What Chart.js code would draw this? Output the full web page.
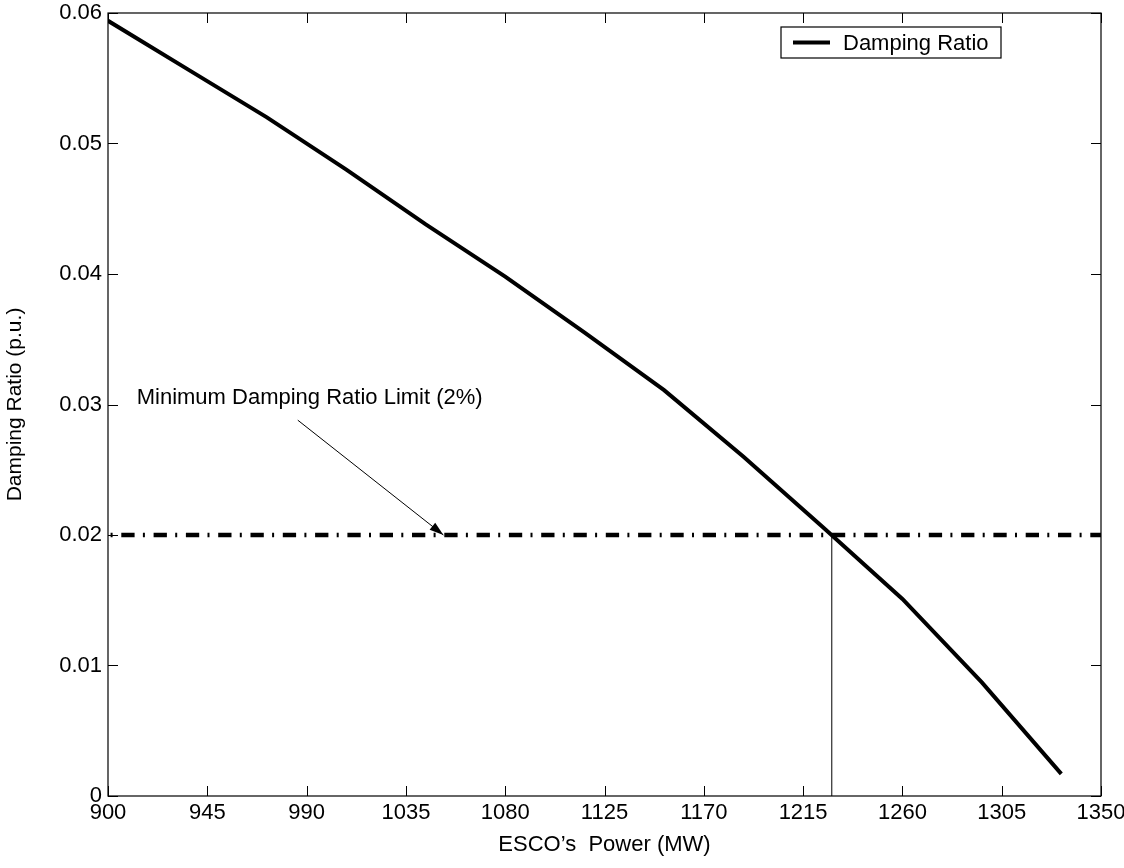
<!DOCTYPE html>
<html>
<head>
<meta charset="utf-8">
<title>Damping Ratio vs ESCO's Power</title>
<script src="https://cdn.jsdelivr.net/npm/chart.js@4.4.1/dist/chart.umd.min.js"></script>
<style>
  html, body { margin: 0; padding: 0; background: #fff; }
  canvas { display: block; }
</style>
</head>
<body>
<canvas id="dampingChart" width="1124" height="868"></canvas>
<script>
// Curve (one point every 36 MW)
const powerMW = [900, 936, 972, 1008, 1044, 1080, 1116, 1152, 1188, 1224, 1260, 1296, 1332];
const dampingRatio = [0.0594, 0.0557, 0.0520, 0.0480, 0.0438, 0.0398, 0.0355, 0.0311, 0.0260, 0.0206, 0.0151, 0.0087, 0.0017];

// 2% limit and the drop line where the curve crosses it
const limitX = [900, 1350];
const limitY = [0.02, 0.02];
const crossX = [1228, 1228];
const crossY = [0, 0.02];

// annotation arrow (tail -> tip) and text anchor
const arrowX = [986, 1052];
const arrowY = [0.0288, 0.0200];
const noteAt = [913, 0.0305];
const noteText = 'Minimum Damping Ratio Limit (2%)';

const xTicks = [900, 945, 990, 1035, 1080, 1125, 1170, 1215, 1260, 1305, 1350];
const yTicks = [0, 0.01, 0.02, 0.03, 0.04, 0.05, 0.06];
const yTickLabels = ['0', '0.01', '0.02', '0.03', '0.04', '0.05', '0.06'];

const FONT = 'Liberation Sans, Arial, Helvetica, sans-serif';

const toXY = (xs, ys) => xs.map((v, i) => ({ x: v, y: ys[i] }));

// box, inward ticks on all four sides, arrow head, note and legend
const matlabFrame = {
    id: 'matlabFrame',
    afterDatasetsDraw(chart) {
        const { ctx, chartArea: a, scales: { x, y } } = chart;
        ctx.save();
        ctx.strokeStyle = '#000';
        ctx.lineWidth = 1.2;
        ctx.strokeRect(a.left, a.top, a.right - a.left, a.bottom - a.top);

        const len = 10;
        ctx.lineWidth = 1;
        ctx.beginPath();
        xTicks.forEach(v => {
            const px = Math.round(x.getPixelForValue(v)) + 0.5;
            ctx.moveTo(px, a.bottom); ctx.lineTo(px, a.bottom - len);
            ctx.moveTo(px, a.top); ctx.lineTo(px, a.top + len);
        });
        yTicks.forEach(v => {
            const py = Math.round(y.getPixelForValue(v)) + 0.5;
            ctx.moveTo(a.left, py); ctx.lineTo(a.left + len, py);
            ctx.moveTo(a.right, py); ctx.lineTo(a.right - len, py);
        });
        ctx.stroke();

        // arrow head
        const tx = x.getPixelForValue(arrowX[1]), ty = y.getPixelForValue(arrowY[1]);
        const sx = x.getPixelForValue(arrowX[0]), sy = y.getPixelForValue(arrowY[0]);
        const ang = Math.atan2(ty - sy, tx - sx);
        const hl = 14, hw = 4.5;
        ctx.fillStyle = '#000';
        ctx.beginPath();
        ctx.moveTo(tx, ty);
        ctx.lineTo(tx - hl * Math.cos(ang) + hw * Math.sin(ang), ty - hl * Math.sin(ang) - hw * Math.cos(ang));
        ctx.lineTo(tx - hl * Math.cos(ang) - hw * Math.sin(ang), ty - hl * Math.sin(ang) + hw * Math.cos(ang));
        ctx.closePath();
        ctx.fill();

        // note text
        ctx.font = '22px ' + FONT;
        ctx.textAlign = 'left';
        ctx.textBaseline = 'middle';
        ctx.fillText(noteText, x.getPixelForValue(noteAt[0]), y.getPixelForValue(noteAt[1]));

        // legend box
        const ds = chart.data.datasets[0];
        const lx = 781, ly = 27, lw = 220, lh = 31;
        ctx.fillStyle = '#fff';
        ctx.fillRect(lx, ly, lw, lh);
        ctx.lineWidth = 1.2;
        ctx.strokeRect(lx, ly, lw, lh);
        ctx.lineWidth = ds.borderWidth;
        ctx.beginPath();
        ctx.moveTo(lx + 12, ly + lh / 2);
        ctx.lineTo(lx + 49, ly + lh / 2);
        ctx.stroke();
        ctx.fillStyle = '#000';
        ctx.fillText(ds.label, lx + 62, ly + lh / 2 + 1);
        ctx.restore();
    }
};

new Chart(document.getElementById('dampingChart'), {
    type: 'line',
    data: {
        datasets: [{
            label: 'Damping Ratio',
            data: toXY(powerMW, dampingRatio),
            borderColor: '#000',
            borderWidth: 4,
            pointRadius: 0,
            tension: 0
        }, {
            label: 'limit',
            data: toXY(limitX, limitY),
            borderColor: '#000',
            borderWidth: 4.5,
            borderDash: [13.3, 8.3, 2, 8.7],
            borderDashOffset: 19,
            borderCapStyle: 'butt',
            pointRadius: 0
        }, {
            label: 'crossing',
            data: toXY(crossX, crossY),
            borderColor: '#000',
            borderWidth: 1,
            pointRadius: 0
        }, {
            label: 'arrow',
            data: toXY(arrowX, arrowY),
            borderColor: '#000',
            borderWidth: 1,
            pointRadius: 0
        }]
    },
    options: {
        responsive: false,
        animation: false,
        layout: { padding: { top: 13, right: 23, left: 0, bottom: 0 } },
        plugins: {
            legend: { display: false },
            tooltip: { enabled: false }
        },
        scales: {
            x: {
                type: 'linear',
                min: 900,
                max: 1350,
                afterBuildTicks: s => { s.ticks = xTicks.map(v => ({ value: v })); },
                afterFit: s => { s.height = 72; s.paddingLeft = 0; s.paddingRight = 0; },
                grid: { display: false, drawTicks: false },
                border: { display: false },
                ticks: {
                    color: '#000',
                    padding: 4,
                    maxRotation: 0,
                    autoSkip: false,
                    font: { family: FONT, size: 22 },
                    callback: v => String(v)
                },
                title: {
                    display: true,
                    text: 'ESCO\u2019s  Power (MW)',
                    color: '#000',
                    font: { family: FONT, size: 22 },
                    padding: { top: 0, bottom: 10 }
                }
            },
            y: {
                type: 'linear',
                min: 0,
                max: 0.06,
                afterBuildTicks: s => { s.ticks = yTicks.map(v => ({ value: v })); },
                afterFit: s => { s.width = 108; s.paddingTop = 0; s.paddingBottom = 0; },
                grid: { display: false, drawTicks: false },
                border: { display: false },
                ticks: {
                    color: '#000',
                    padding: 6,
                    autoSkip: false,
                    font: { family: FONT, size: 22 },
                    callback: v => yTickLabels[yTicks.indexOf(v)] ?? String(v)
                },
                title: {
                    display: true,
                    text: 'Damping Ratio (p.u.)',
                    color: '#000',
                    font: { family: FONT, size: 21 },
                    padding: { top: 3, bottom: 0 }
                }
            }
        }
    },
    plugins: [matlabFrame]
});
</script>
</body>
</html>
